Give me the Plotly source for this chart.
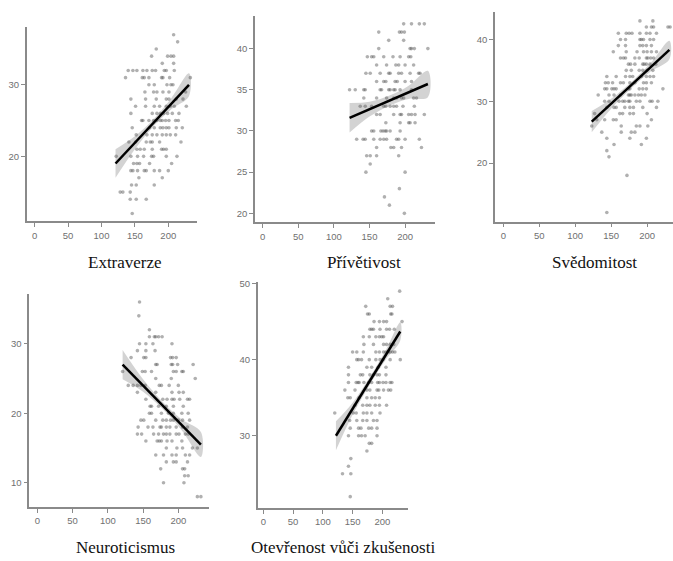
import plotly.graph_objects as go

W, H = 673, 561

# ---------------- data ----------------
panel_titles = ["Extraverze", "Přívětivost", "Svědomitost", "Neuroticismus",
                "Otevřenost vůči zkušenosti"]

# each dict: trait score (y) -> list of total scores (x)
extraverze_rows = {
    37: [208], 36: [214], 35: [182], 34: [175, 199, 204, 208], 33: [191, 208],
    32: [140, 147, 153, 162, 168, 176, 181, 194, 197, 209],
    31: [136, 161, 164, 171, 190, 192, 202, 233],
    30: [171, 179, 198, 204, 207], 29: [165, 178, 183, 192, 201, 226],
    28: [144, 166, 182, 197, 201, 212, 222],
    27: [151, 166, 179, 187, 197, 203, 209, 227],
    26: [144, 176, 183, 188, 193, 199, 206, 216],
    25: [160, 162, 171, 178, 183, 188, 191, 196, 201, 211, 215],
    24: [146, 172, 179, 188, 192, 197, 201, 212, 221],
    23: [152, 168, 176, 183, 191, 197, 203, 211],
    22: [141, 151, 167, 173, 176, 187, 219],
    21: [153, 158, 164, 176, 190, 193, 197],
    20: [122, 144, 154, 163, 175, 178, 197, 213],
    19: [148, 153, 157, 172, 205],
    18: [144, 147, 154, 164, 167, 179, 187, 200],
    17: [156, 191], 16: [145, 152, 179], 15: [128, 132, 143],
    14: [143, 152, 167], 12: [146],
}
privetivost_rows = {
    43: [198, 209, 220, 227], 42: [163, 192, 195, 199], 41: [177, 198],
    40: [163, 207, 209, 213, 232],
    39: [147, 153, 156, 170, 183, 193, 205, 208],
    38: [160, 174, 187, 191, 200, 212],
    37: [145, 151, 165, 177, 179, 191, 195, 207, 219, 221],
    36: [160, 170, 173, 186, 189, 200, 209],
    35: [122, 130, 142, 144, 165, 167, 177, 179, 184, 186, 193, 209],
    34: [142, 160, 174, 184, 188, 195, 198, 212, 216],
    33: [137, 144, 153, 170, 173, 179, 184, 188, 197, 213],
    32: [160, 165, 184, 193, 195, 205, 209, 214, 227],
    31: [173, 193, 205, 207, 214],
    30: [153, 156, 166, 169, 172, 174, 179, 193],
    29: [132, 141, 144, 156, 165, 170, 174, 188, 191, 200, 220],
    28: [160, 180, 184, 195, 223], 27: [146, 151, 160, 191], 26: [151],
    25: [145, 200], 23: [192], 22: [171], 21: [178], 20: [199],
}
svedomitost_rows = {
    43: [190, 208], 42: [199, 206, 209, 229, 232],
    41: [160, 171, 175, 179, 190, 199, 204, 213],
    40: [163, 170, 190, 192, 195, 204, 209],
    39: [160, 170, 190, 194, 199, 206],
    38: [153, 171, 186, 195, 200, 206, 213],
    37: [163, 167, 170, 183, 189, 199, 201, 205, 209],
    36: [174, 177, 183, 194, 196, 199, 204, 212],
    35: [171, 178, 189, 194, 200, 208],
    34: [144, 157, 170, 176, 180, 192, 199, 204, 209],
    33: [142, 146, 152, 163, 167, 176, 183, 195, 199, 206],
    32: [141, 144, 151, 154, 157, 174, 176, 189, 194, 199, 222],
    31: [132, 147, 154, 163, 174, 176, 178, 183, 188, 192, 197],
    30: [141, 147, 161, 166, 169, 174, 176, 185, 190, 204, 207, 215],
    29: [144, 154, 157, 169, 176, 181, 194, 213],
    28: [127, 162, 166, 176, 181, 200],
    27: [130, 141, 153, 157, 206],
    26: [123, 164, 185, 190, 201],
    25: [137, 164, 178, 183], 24: [144, 176, 199], 23: [154, 192],
    22: [144], 21: [147], 18: [172], 12: [144],
}
neuroticismus_rows = {
    36: [145], 34: [144], 32: [159], 31: [159, 166, 168, 172, 177],
    30: [145, 154, 164, 191], 29: [142, 154, 167],
    28: [133, 151, 154, 189, 192, 197],
    27: [168, 170, 190, 192, 199, 221],
    26: [121, 149, 153, 162, 193, 197, 205, 207],
    25: [168, 190, 224],
    24: [129, 136, 142, 147, 153, 173, 176, 187, 200],
    23: [142, 168, 191, 201, 207],
    22: [154, 178, 184, 191, 194, 202, 213, 216],
    21: [160, 162, 172, 183, 193, 207],
    20: [159, 162, 176, 186, 193, 205, 214],
    19: [147, 151, 168, 178, 183, 189, 193, 200, 206, 216],
    18: [143, 157, 164, 174, 176, 183, 188, 197, 206, 213],
    17: [142, 148, 165, 172, 179, 183, 188, 197, 201, 210, 214],
    16: [154, 170, 173, 176, 184, 191, 205],
    15: [183, 198, 206, 220, 227],
    14: [168, 179, 191, 197, 210, 216],
    13: [183, 193, 197, 213], 12: [175, 206, 209], 11: [209, 214],
    10: [179, 208], 8: [227, 232],
}
otevrenost_rows = {
    49: [229], 48: [209], 47: [172, 213, 217], 46: [175, 178, 214, 216],
    45: [186, 195, 202, 207, 233],
    44: [179, 182, 185, 196, 207, 212, 220],
    43: [168, 178, 189, 195, 199, 202],
    42: [169, 185, 202, 207, 213, 219],
    41: [150, 157, 168, 189, 195, 202, 206, 210, 213, 217, 221],
    40: [157, 160, 165, 178, 189, 196, 201, 213, 230],
    39: [143, 174, 182, 193, 206],
    38: [143, 163, 167, 179, 185, 191, 195, 206],
    37: [143, 156, 159, 161, 169, 177, 182, 192, 195, 201, 206, 213, 216],
    36: [137, 154, 174, 179, 191, 194, 202, 210, 214],
    35: [142, 146, 161, 174, 182, 188, 195],
    34: [154, 167, 174, 179, 188, 195, 207],
    33: [120, 151, 156, 168, 174, 182, 196],
    32: [145, 157, 167, 174, 185, 191],
    31: [146, 160, 164, 177, 182, 191],
    30: [143, 160, 165, 171, 191],
    29: [178, 182], 28: [174], 27: [147], 26: [143], 25: [133, 147], 22: [146],
}
panel_rows = [extraverze_rows, privetivost_rows, svedomitost_rows,
              neuroticismus_rows, otevrenost_rows]

# regression line end points (x0, y0, x1, y1)
fit_lines = [
    (121, 19.0, 231, 30.0),
    (122, 31.6, 232, 35.7),
    (123, 26.7, 231, 38.3),
    (121, 27.0, 232, 15.5),
    (122, 30.0, 230, 43.7),
]
# confidence band half-widths at x = left end, 150, 180, 205, right end
band_half = [
    [2.0, 0.9, 0.5, 0.8, 1.6],
    [1.8, 0.9, 0.6, 0.8, 1.6],
    [1.7, 0.8, 0.5, 0.7, 1.5],
    [2.1, 0.9, 0.5, 0.8, 1.8],
    [1.9, 0.8, 0.5, 0.6, 1.2],
]
band_x_mid = [150, 180, 205]

x_ticks = [0, 50, 100, 150, 200]
y_ticks = [[20, 30], [20, 25, 30, 35, 40], [20, 30, 40], [10, 20, 30], [30, 40, 50]]

# ---------------- layout geometry (pixels) ----------------
# left, right, top, bottom of each plot area, and axis ranges
boxes = [
    (26.7, 197, 23, 219, [-12, 243], [10.9, 38.1]),
    (255, 435, 11.7, 220, [-10.8, 242], [18.9, 44]),
    (495, 673, 8.3, 219.3, [-11.5, 236], [10.5, 44.4]),
    (29.3, 209, 291.7, 506.7, [-11.3, 243.5], [6.5, 37.2]),
    (257.7, 408, 280, 507.7, [-9.4, 243], [20.5, 50.2]),
]
title_pos = [(125, 260), (364, 260), (594, 260), (125, 547), (343, 547)]

fig = go.Figure()
layout = dict(width=W, height=H, margin=dict(l=0, r=0, t=0, b=0),
              paper_bgcolor="white", plot_bgcolor="white", showlegend=False,
              annotations=[])

axis_col = "#8a8a8a"
for i in range(5):
    xa = "x" if i == 0 else f"x{i+1}"
    ya = "y" if i == 0 else f"y{i+1}"
    rows = panel_rows[i]
    xs, ys = [], []
    for yv, xl in rows.items():
        for xv in xl:
            xs.append(xv)
            ys.append(yv)
    x0, y0, x1, y1 = fit_lines[i]
    slope = (y1 - y0) / (x1 - x0)
    bx = [x0] + band_x_mid + [x1]
    by = [y0 + slope * (v - x0) for v in bx]
    hi = [b + h for b, h in zip(by, band_half[i])]
    lo = [b - h for b, h in zip(by, band_half[i])]
    fig.add_trace(go.Scatter(x=bx + bx[::-1], y=hi + lo[::-1], fill="toself",
                             fillcolor="rgba(175,175,175,0.55)", mode="lines",
                             line=dict(width=0, shape="spline"), hoverinfo="skip",
                             xaxis=xa, yaxis=ya))
    fig.add_trace(go.Scatter(x=xs, y=ys, mode="markers",
                             marker=dict(size=3.6, color="rgba(80,80,80,0.45)",
                                         line=dict(width=0)),
                             xaxis=xa, yaxis=ya))
    fig.add_trace(go.Scatter(x=[x0, x1], y=[y0, y1], mode="lines",
                             line=dict(color="black", width=2.5),
                             xaxis=xa, yaxis=ya))

    L, R, T, B, xr, yr = boxes[i]
    common = dict(showline=True, linecolor=axis_col, linewidth=1.5,
                  ticks="outside", ticklen=4, tickwidth=1, tickcolor=axis_col,
                  tickfont=dict(family="Liberation Sans, Arial", size=9.5, color="#707070"),
                  showgrid=False, zeroline=False, fixedrange=True)
    layout["xaxis" if i == 0 else f"xaxis{i+1}"] = dict(
        domain=[L / W, R / W], range=xr, tickvals=x_ticks,
        anchor=ya, **common)
    layout["yaxis" if i == 0 else f"yaxis{i+1}"] = dict(
        domain=[1 - B / H, 1 - T / H], range=yr, tickvals=y_ticks[i],
        anchor=xa, **common)
    tx, ty = title_pos[i]
    layout["annotations"].append(dict(
        text=panel_titles[i], x=tx / W, y=1 - ty / H, xref="paper", yref="paper",
        xanchor="center", yanchor="middle", showarrow=False,
        font=dict(family="Liberation Serif, Times New Roman", size=17, color="#111")))

fig.update_layout(**layout)
fig.write_html("out.html", config={"displayModeBar": False},
               post_script="document.body.style.margin='0';"
                           "document.body.style.overflow='hidden';")
